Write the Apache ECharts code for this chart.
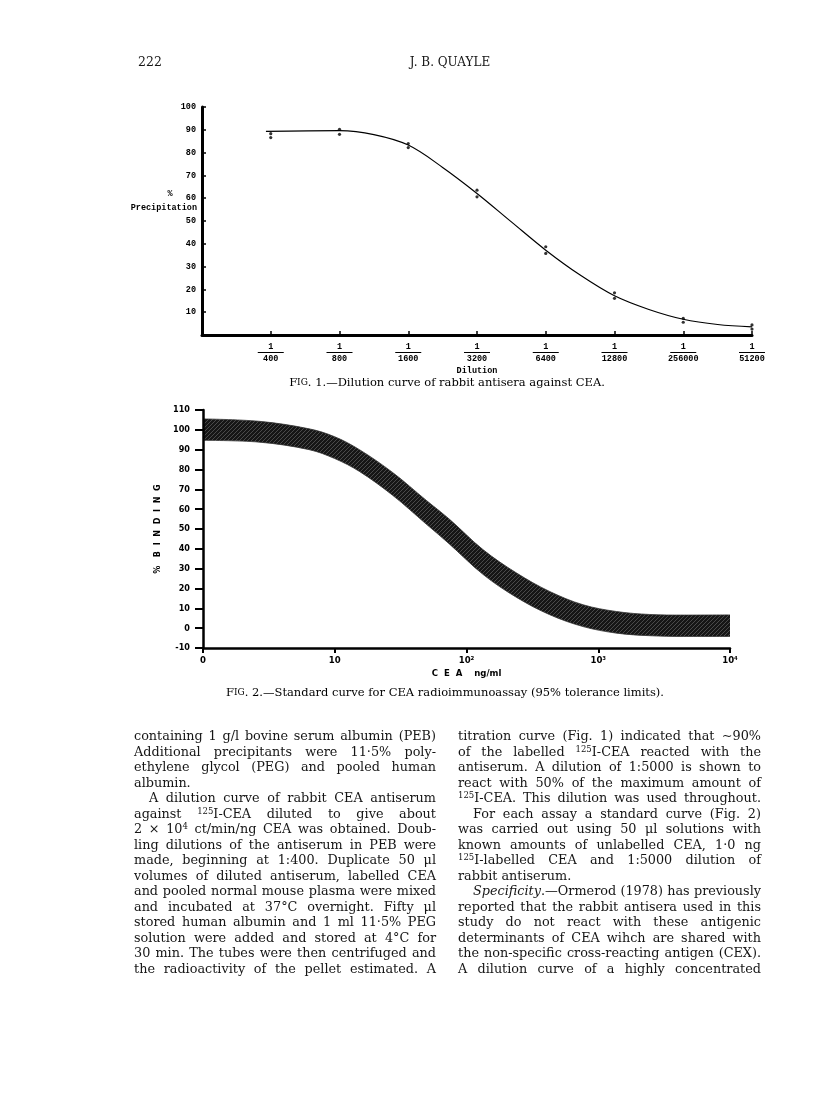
<!DOCTYPE html>
<html>
<head>
<meta charset="utf-8">
<script src="https://cdn.jsdelivr.net/npm/echarts@6/dist/echarts.min.js"></script>
<style>
  html, body { margin: 0; padding: 0; background: #fff; }
  #page { position: relative; width: 816px; height: 1101px; overflow: hidden; }
  #chart { position: absolute; left: 0; top: 0; width: 816px; height: 1101px; }
  .col { position: absolute; font-family: "DejaVu Serif", serif; font-size: 12.8px; line-height: 15.5px; color: #151515; }
  .ln { text-align: justify; text-align-last: justify; white-space: nowrap; overflow: visible; }
  .ln.last { text-align-last: left; }
  .ln.ind { text-indent: 15px; }
  sup { font-size: 8.5px; vertical-align: 4px; line-height: 0; }
</style>
</head>
<body>
<div id="page">
  <div id="chart"></div>
  <div class="col" id="left" style="left:134px; top:728px; width:302px;">
    <div class="ln">containing 1 g/l bovine serum albumin (PEB)</div>
    <div class="ln">Additional precipitants were 11·5% poly-</div>
    <div class="ln">ethylene glycol (PEG) and pooled human</div>
    <div class="ln last">albumin.</div>
    <div class="ln ind">A dilution curve of rabbit CEA antiserum</div>
    <div class="ln">against <sup>125</sup>I-CEA diluted to give about</div>
    <div class="ln">2 × 10<sup>4</sup> ct/min/ng CEA was obtained. Doub-</div>
    <div class="ln">ling dilutions of the antiserum in PEB were</div>
    <div class="ln">made, beginning at 1:400. Duplicate 50 μl</div>
    <div class="ln">volumes of diluted antiserum, labelled CEA</div>
    <div class="ln">and pooled normal mouse plasma were mixed</div>
    <div class="ln">and incubated at 37°C overnight. Fifty μl</div>
    <div class="ln">stored human albumin and 1 ml 11·5% PEG</div>
    <div class="ln">solution were added and stored at 4°C for</div>
    <div class="ln">30 min. The tubes were then centrifuged and</div>
    <div class="ln">the radioactivity of the pellet estimated. A</div>
  </div>
  <div class="col" id="right" style="left:458px; top:728px; width:303px;">
    <div class="ln">titration curve (Fig. 1) indicated that ∼90%</div>
    <div class="ln">of the labelled <sup>125</sup>I-CEA reacted with the</div>
    <div class="ln">antiserum. A dilution of 1:5000 is shown to</div>
    <div class="ln">react with 50% of the maximum amount of</div>
    <div class="ln"><sup>125</sup>I-CEA. This dilution was used throughout.</div>
    <div class="ln ind">For each assay a standard curve (Fig. 2)</div>
    <div class="ln">was carried out using 50 μl solutions with</div>
    <div class="ln">known amounts of unlabelled CEA, 1·0 ng</div>
    <div class="ln"><sup>125</sup>I-labelled CEA and 1:5000 dilution of</div>
    <div class="ln last">rabbit antiserum.</div>
    <div class="ln ind"><i>Specificity</i>.—Ormerod (1978) has previously</div>
    <div class="ln">reported that the rabbit antisera used in this</div>
    <div class="ln">study do not react with these antigenic</div>
    <div class="ln">determinants of CEA wihch are shared with</div>
    <div class="ln">the non-specific cross-reacting antigen (CEX).</div>
    <div class="ln">A dilution curve of a highly concentrated</div>
  </div>
</div>
<script>
// ---------- Fig. 1 data ----------
const dilutionLabels = ['400', '800', '1600', '3200', '6400', '12800', '256000', '51200'];
const dilutionIndex = [0, 1, 2, 3, 4, 5, 6, 7];
const precipReplicateA = [88.3, 90.2, 84.0, 63.5, 38.7, 18.5, 7.3, 4.4];
const precipReplicateB = [86.6, 88.0, 82.2, 60.6, 35.8, 16.1, 5.6, 2.6];
const fitCurveX = [-0.07, 1, 1.5, 2, 2.5, 3, 3.5, 4, 4.5, 5, 5.5, 6, 6.5, 7];
const fitCurveY = [89.3, 89.6, 87.9, 83.3, 73.5, 62.1, 49.6, 37.2, 26.3, 17.2, 11.2, 6.9, 4.6, 3.6];

// ---------- Fig. 2 data ----------
const ceaDose = [1, 2.67, 6.4, 10, 15.4, 27.5, 49.4, 74, 134, 240, 428, 767, 1374, 2460, 4413, 10000];
const bindingUpper = [105.5, 104.3, 100.5, 96.5, 90.0, 78.5, 64.5, 55.0, 39.5, 27.8, 18.5, 11.8, 8.4, 6.9, 6.6, 6.7];
const bindingLower = [94.7, 93.8, 90.0, 85.5, 79.0, 67.0, 52.5, 42.5, 27.0, 15.5, 6.8, 0.8, -2.5, -3.8, -4.2, -4.2];
const ceaTickLabels = { 1: '0', 10: '10', 100: '10²', 1000: '10³', 10000: '10⁴' };

const chart = echarts.init(document.getElementById('chart'), null, { renderer: 'canvas' });

function hatchPattern() {
  const c = document.createElement('canvas');
  c.width = 4; c.height = 4;
  const g = c.getContext('2d');
  g.fillStyle = '#161616';
  g.fillRect(0, 0, 4, 4);
  g.strokeStyle = '#4a4a4a';
  g.lineWidth = 1;
  g.beginPath(); g.moveTo(-1, 5); g.lineTo(5, -1); g.stroke();
  return c;
}

const mono = '"Liberation Mono", "DejaVu Sans Mono", monospace';
const narrow = '"Liberation Sans Narrow", "DejaVu Sans Condensed", "Liberation Sans", sans-serif';
const serif = '"DejaVu Serif", "Liberation Serif", serif';

function pairs(xs, ys) { return xs.map((x, i) => [x, ys[i]]); }

const captionRich = {
  a: { fontFamily: serif, fontSize: 11.5, color: '#151515' },
  b: { fontFamily: serif, fontSize: 9, color: '#151515' }
};

const option = {
  backgroundColor: '#fff',
  animation: false,
  grid: [
    { left: 202, top: 107, width: 550, height: 228 },
    { left: 203, top: 410, width: 527, height: 238 }
  ],
  xAxis: [
    {
      gridIndex: 0, type: 'value', min: -1, max: 7, interval: 1,
      axisLine: { onZero: false, lineStyle: { color: '#000', width: 3 } },
      axisTick: { inside: true, length: 4, lineStyle: { color: '#000', width: 1.5 } },
      splitLine: { show: false },
      axisLabel: {
        margin: 7,
        formatter: v => (v < 0 ? '' : '{n|1}\n{r| }\n{d|' + dilutionLabels[v] + '}'),
        rich: {
          n: { fontFamily: mono, fontWeight: 'bold', fontSize: 8.5, color: '#000', lineHeight: 9, align: 'center' },
          r: { width: 26, height: 1, lineHeight: 3, fontSize: 1, backgroundColor: '#000', align: 'center' },
          d: { fontFamily: mono, fontWeight: 'bold', fontSize: 8.5, color: '#000', lineHeight: 10, align: 'center' }
        }
      },
      name: 'Dilution', nameLocation: 'middle', nameGap: 31,
      nameTextStyle: { fontFamily: mono, fontWeight: 'bold', fontSize: 8.5, color: '#000' }
    },
    {
      gridIndex: 1, type: 'log', logBase: 10, min: 1, max: 10000, z: 5,
      axisLine: { onZero: false, lineStyle: { color: '#000', width: 2.5 } },
      axisTick: { inside: false, length: 5, lineStyle: { color: '#000', width: 2 } },
      minorTick: { show: false },
      splitLine: { show: false },
      axisLabel: {
        margin: 8, color: '#000', fontFamily: narrow, fontWeight: 'bold', fontSize: 9.5,
        formatter: v => ceaTickLabels[Math.round(v)] || ''
      },
      name: 'C  E  A    ng/ml', nameLocation: 'middle', nameGap: 21,
      nameTextStyle: { fontFamily: narrow, fontWeight: 'bold', fontSize: 9.5, color: '#000' }
    }
  ],
  yAxis: [
    {
      gridIndex: 0, type: 'value', min: 0, max: 100, interval: 10,
      axisLine: { show: true, onZero: false, lineStyle: { color: '#000', width: 3 } },
      axisTick: { show: true, inside: true, length: 4, lineStyle: { color: '#000', width: 1.5 } },
      splitLine: { show: false },
      axisLabel: {
        margin: 6, color: '#000', fontFamily: mono, fontWeight: 'bold', fontSize: 8.5,
        formatter: v => (v === 0 ? '' : String(v))
      }
    },
    {
      gridIndex: 1, type: 'value', min: -10, max: 110, interval: 10, z: 5,
      axisLine: { show: true, onZero: false, lineStyle: { color: '#000', width: 2.5 } },
      axisTick: { show: true, inside: false, length: 8, lineStyle: { color: '#000', width: 2 } },
      splitLine: { show: false },
      axisLabel: { margin: 13, color: '#000', fontFamily: narrow, fontWeight: 'bold', fontSize: 9 },
      name: '%   B  I  N  D  I  N  G', nameLocation: 'middle', nameRotate: 90, nameGap: 32,
      nameTextStyle: { fontFamily: narrow, fontWeight: 'bold', fontSize: 9, color: '#000' }
    }
  ],
  series: [
    {
      name: 'fit', type: 'line', xAxisIndex: 0, yAxisIndex: 0,
      data: pairs(fitCurveX, fitCurveY), smooth: 0.35, symbol: 'none',
      lineStyle: { color: '#000', width: 1.2 }
    },
    {
      name: 'replicate A', type: 'scatter', xAxisIndex: 0, yAxisIndex: 0,
      data: pairs(dilutionIndex, precipReplicateA), symbol: 'circle', symbolSize: 3.2,
      itemStyle: { color: '#000' }
    },
    {
      name: 'replicate B', type: 'scatter', xAxisIndex: 0, yAxisIndex: 0,
      data: pairs(dilutionIndex, precipReplicateB), symbol: 'circle', symbolSize: 3.2,
      itemStyle: { color: '#000' }
    },
    {
      name: 'upper limit', type: 'line', xAxisIndex: 1, yAxisIndex: 1, z: 2,
      data: pairs(ceaDose, bindingUpper), smooth: 0.35, symbol: 'none',
      lineStyle: { width: 0.8, color: '#333' },
      areaStyle: { origin: 'start', opacity: 1, color: { image: hatchPattern(), repetition: 'repeat' } }
    },
    {
      name: 'lower limit', type: 'line', xAxisIndex: 1, yAxisIndex: 1, z: 3,
      data: pairs(ceaDose, bindingLower), smooth: 0.35, symbol: 'none',
      lineStyle: { width: 0.8, color: '#333' },
      areaStyle: { origin: 'start', opacity: 1, color: '#fff' }
    }
  ],
  graphic: [
    { type: 'text', x: 138, y: 63, style: { text: '222', font: '12.5px ' + serif, fill: '#151515', textVerticalAlign: 'middle' } },
    { type: 'text', x: 450, y: 63, style: { text: 'J. B. QUAYLE', font: '12px ' + serif, fill: '#151515', textAlign: 'center', textVerticalAlign: 'middle' } },
    { type: 'text', x: 170, y: 194, style: { text: '%', font: 'bold 8.5px ' + mono, fill: '#000', textAlign: 'center', textVerticalAlign: 'middle' } },
    { type: 'text', x: 197, y: 208, style: { text: 'Precipitation', font: 'bold 8.5px ' + mono, fill: '#000', textAlign: 'right', textVerticalAlign: 'middle' } },
    {
      type: 'text', x: 447, y: 383,
      style: {
        text: '{a|F}{b|IG}{a|. 1.—Dilution curve of rabbit antisera against CEA.}',
        textAlign: 'center', textVerticalAlign: 'middle', rich: captionRich
      }
    },
    {
      type: 'text', x: 445, y: 693,
      style: {
        text: '{a|F}{b|IG}{a|. 2.—Standard curve for CEA radioimmunoassay (95% tolerance limits).}',
        textAlign: 'center', textVerticalAlign: 'middle', rich: captionRich
      }
    }
  ]
};
chart.setOption(option);
</script>
</body>
</html>
